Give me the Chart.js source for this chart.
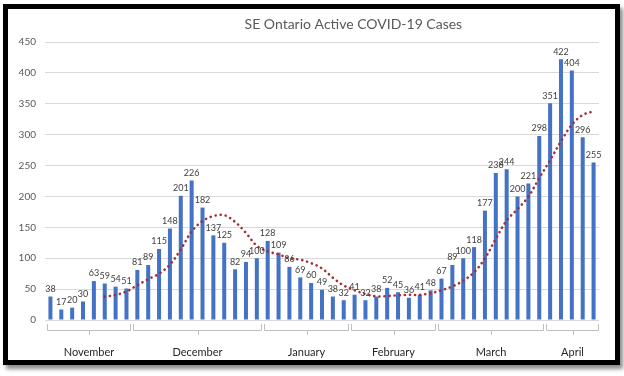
<!DOCTYPE html>
<html>
<head>
<meta charset="utf-8">
<script src="https://cdn.jsdelivr.net/npm/chart.js@4"></script>
<style>
  body { margin: 0; background: #fff; }
  #frame {
    position: absolute; left: 3px; top: 4px;
    width: 607px; height: 351px;
    border: 5px solid #000;
    background: #fff;
    box-shadow: 3px 4px 4px rgba(0,0,0,0.45);
  }
  #chart { display: block; }
</style>
</head>
<body>
<div id="frame"><canvas id="chart" width="607" height="351"></canvas></div>
<script>
const titleText = 'SE Ontario Active COVID-19 Cases';

// month groups along the x axis (number of reports in each month)
const monthNames = ['November', 'December', 'January', 'February', 'March', 'April'];
const monthBarCounts = [8, 12, 8, 8, 10, 5];

// active cases, one bar per report
const activeCases = [
  38, 17, 20, 30, 63, 59, 54, 51,
  81, 89, 115, 148, 201, 226, 182, 137, 125, 82, 94, 100,
  128, 109, 86, 69, 60, 49, 38, 32,
  41, 32, 38, 52, 45, 36, 41, 48,
  67, 89, 100, 118, 177, 238, 244, 200, 221, 298,
  351, 422, 404, 296, 255
];

// dotted trend line (6-point moving average as drawn in the picture)
const trendValues = [
  null, null, null, null, null, 37.8, 40.5, 46.2,
  56.3, 66.2, 74.8, 89.7, 114.2, 143.3, 160.2, 168.2, 169.8, 158.8, 141.0, 120.0,
  111.0, 106.3, 99.8, 97.7, 92.0, 83.5, 68.5, 55.7,
  48.2, 42.0, 38.3, 38.8, 40.0, 40.7, 40.7, 43.3,
  48.2, 54.3, 63.5, 77.2, 99.8, 131.5, 161.0, 179.5, 199.7, 229.7,
  258.7, 289.3, 316.0, 332.0, 337.7
];

const yTicks = [0, 50, 100, 150, 200, 250, 300, 350, 400, 450];

// category labels built from the month groups
const categories = [];
monthNames.forEach((m, i) => {
  for (let k = 0; k < monthBarCounts[i]; k++) categories.push(m + ' ' + (k + 1));
});

const FONT = 'Lato, "Open Sans", sans-serif';

const decorPlugin = {
  id: 'decor',
  afterDatasetsDraw(chart) {
    const ctx = chart.ctx;
    const xs = chart.scales.x;
    const area = chart.chartArea;
    const barMeta = chart.getDatasetMeta(1);

    // value labels above bars
    ctx.save();
    ctx.font = '9px ' + FONT;
    ctx.fillStyle = '#404040';
    ctx.textAlign = 'center';
    ctx.textBaseline = 'bottom';
    barMeta.data.forEach((bar, i) => {
      ctx.fillText(String(activeCases[i]), bar.x, bar.y - 3);
    });
    ctx.restore();

    // month brackets and labels
    const step = xs.getPixelForValue(1) - xs.getPixelForValue(0);
    const yLine = area.bottom + 10;
    ctx.save();
    ctx.strokeStyle = '#BFBFBF';
    ctx.lineWidth = 1;
    ctx.font = '11px ' + FONT;
    ctx.fillStyle = '#262626';
    ctx.textAlign = 'center';
    ctx.textBaseline = 'middle';
    let start = 0;
    monthNames.forEach((m, i) => {
      const end = start + monthBarCounts[i] - 1;
      const left = Math.round(xs.getPixelForValue(start) - step / 2 + 1.5) + 0.5;
      const right = Math.round(xs.getPixelForValue(end) + step / 2 - 1.5) + 0.5;
      const mid = Math.round((left + right) / 2) + 0.5;
      ctx.beginPath();
      ctx.moveTo(left, yLine - 6);
      ctx.lineTo(left, yLine + 0.5);
      ctx.lineTo(right, yLine + 0.5);
      ctx.lineTo(right, yLine - 6);
      ctx.moveTo(mid, yLine);
      ctx.lineTo(mid, yLine + 5);
      ctx.stroke();
      ctx.fillText(m, (left + right) / 2, area.bottom + 32);
      start = end + 1;
    });
    ctx.restore();

    // title
    ctx.save();
    ctx.font = '14px ' + FONT;
    ctx.fillStyle = '#595959';
    ctx.textAlign = 'center';
    ctx.textBaseline = 'middle';
    ctx.fillText(titleText, chart.width * 0.569, 15);
    ctx.restore();
  }
};

const ctx = document.getElementById('chart').getContext('2d');
new Chart(ctx, {
  type: 'bar',
  data: {
    labels: categories,
    datasets: [
      {
        type: 'line',
        label: 'Trend',
        data: trendValues,
        borderColor: '#A3302F',
        borderWidth: 2.6,
        borderDash: [0.1, 5],
        borderCapStyle: 'round',
        pointRadius: 0,
        tension: 0.35,
        fill: false,
        spanGaps: false,
        order: 0
      },
      {
        type: 'bar',
        label: 'Active Cases',
        data: activeCases,
        backgroundColor: '#4472C4',
        barPercentage: 0.37,
        categoryPercentage: 1.0,
        order: 1
      }
    ]
  },
  options: {
    responsive: false,
    animation: false,
    layout: { padding: { top: 33, right: 16, bottom: 0, left: 0 } },
    plugins: {
      legend: { display: false },
      tooltip: { enabled: false },
      title: { display: false }
    },
    scales: {
      x: {
        offset: true,
        grid: { display: false },
        border: { display: false },
        ticks: { display: false },
        afterFit: (s) => { s.height = 40; }
      },
      y: {
        min: 0,
        max: 450,
        afterBuildTicks: (s) => { s.ticks = yTicks.map(v => ({ value: v })); },
        grid: { color: '#D9D9D9', lineWidth: 1, drawTicks: false },
        border: { display: false },
        ticks: {
          color: '#595959',
          font: { family: FONT, size: 10 },
          padding: 9
        },
        afterFit: (s) => { s.width = 37; }
      }
    }
  },
  plugins: [decorPlugin]
});
</script>
</body>
</html>
